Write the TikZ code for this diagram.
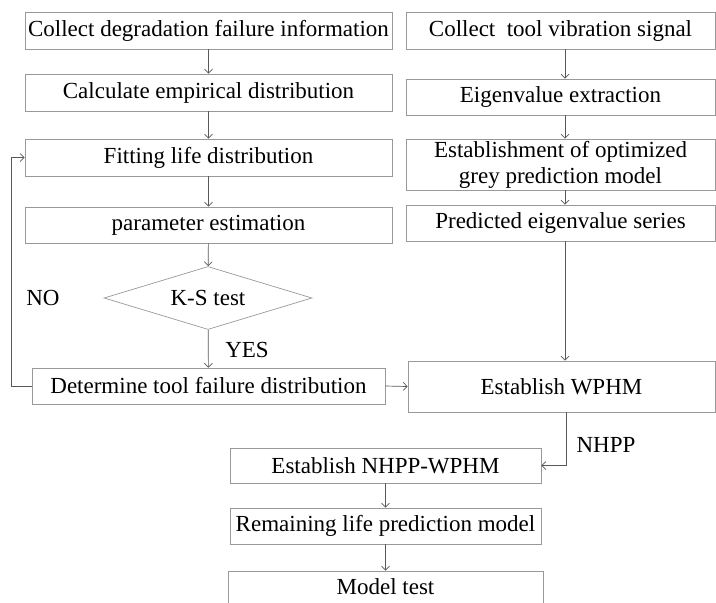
\documentclass[tikz,border=0pt]{standalone}
\usepackage{fontspec}
\setmainfont{Liberation Serif}
\usetikzlibrary{arrows.meta, shapes.geometric}
\tikzset{
  stepbox/.style ={draw=black!40, line width=0.7pt, inner sep=0pt, align=center,
                   font=\fontsize{23}{26}\selectfont},
  testnode/.style={draw=black!40, line width=0.7pt, diamond, inner sep=0pt, aspect=3.3,
                   minimum width=208pt, minimum height=63pt, font=\fontsize{23}{26}\selectfont},
  arr/.style     ={-{Straight Barb[length=4pt, width=8pt]}, line width=0.7pt, black!65},
  lbl/.style     ={font=\fontsize{23}{26}\selectfont},
}
\begin{document}
\begin{tikzpicture}[x=1pt, y=-1pt]
  \useasboundingbox (0,0) rectangle (716,603);
  % left column: life distribution
  \node[stepbox, minimum width=367pt, minimum height=37pt] (b1) at (208.5,30.5) {Collect degradation failure information};
  \node[stepbox, minimum width=367pt, minimum height=37pt] (b2) at (208.5,92.5) {Calculate empirical distribution};
  \node[stepbox, minimum width=367pt, minimum height=37pt] (b3) at (208.5,157.5) {Fitting life distribution};
  \node[stepbox, minimum width=367pt, minimum height=36pt] (b4) at (208.5,225) {parameter estimation};
  \node[testnode] (ks) at (208,298) {K-S test};
  \node[stepbox, minimum width=353pt, minimum height=36pt] (b5) at (208.5,386) {Determine tool failure distribution};
  % right column: vibration signal
  \node[stepbox, minimum width=309pt, minimum height=37pt] (r1) at (560.5,30.5) {Collect\ \ tool vibration signal};
  \node[stepbox, minimum width=309pt, minimum height=36pt] (r2) at (560.5,97) {Eigenvalue extraction};
  \node[stepbox, minimum width=309pt, minimum height=51pt] (r3) at (560.5,164.5) {Establishment of optimized\\grey prediction model};
  \node[stepbox, minimum width=309pt, minimum height=36pt] (r4) at (560.5,223) {Predicted eigenvalue series};
  \node[stepbox, minimum width=307pt, minimum height=51pt] (r5) at (561.5,386.5) {Establish WPHM};
  % bottom: combined model
  \node[stepbox, minimum width=311pt, minimum height=35pt] (b6) at (385.5,465.5) {Establish NHPP-WPHM};
  \node[stepbox, minimum width=311pt, minimum height=36pt] (b7) at (385.5,526) {Remaining life prediction model};
  \node[stepbox, minimum width=315pt, minimum height=64pt] (b8) at (385.5,603) {\raisebox{0pt}[0pt][0pt]{\raisebox{9pt}{Model test}}};
  % labels
  \node[lbl] (no)   at (43,298)  {NO};
  \node[lbl] (yes)  at (247,350) {YES};
  \node[lbl] (nhpp) at (606,445) {NHPP};
  % connectors
  \draw[arr] (b1) -- (b2);
  \draw[arr] (b2) -- (b3);
  \draw[arr] (b3) -- (b4);
  \draw[arr] (b4) -- (ks);
  \draw[arr] (ks) -- (b5);
  \draw[arr] (b5.west) -- ++(-20,0) |- (b3.west);
  \draw[arr] ([xshift=4.5pt]r1.south) -- ([xshift=4.5pt]r2.north);
  \draw[arr] ([xshift=4.5pt]r2.south) -- ([xshift=4.5pt]r3.north);
  \draw[arr] ([xshift=4.5pt]r3.south) -- ([xshift=4.5pt]r4.north);
  \draw[arr] ([xshift=4.5pt]r4.south) -- ([xshift=3.5pt]r5.north);
  \draw[arr] (b5.east) -- (r5.west);
  \draw[arr] ([xshift=4.5pt]r5.south) |- (b6.east);
  \draw[arr] (b6) -- (b7);
  \draw[arr] (b7) -- (b8.north);
\end{tikzpicture}
\end{document}
